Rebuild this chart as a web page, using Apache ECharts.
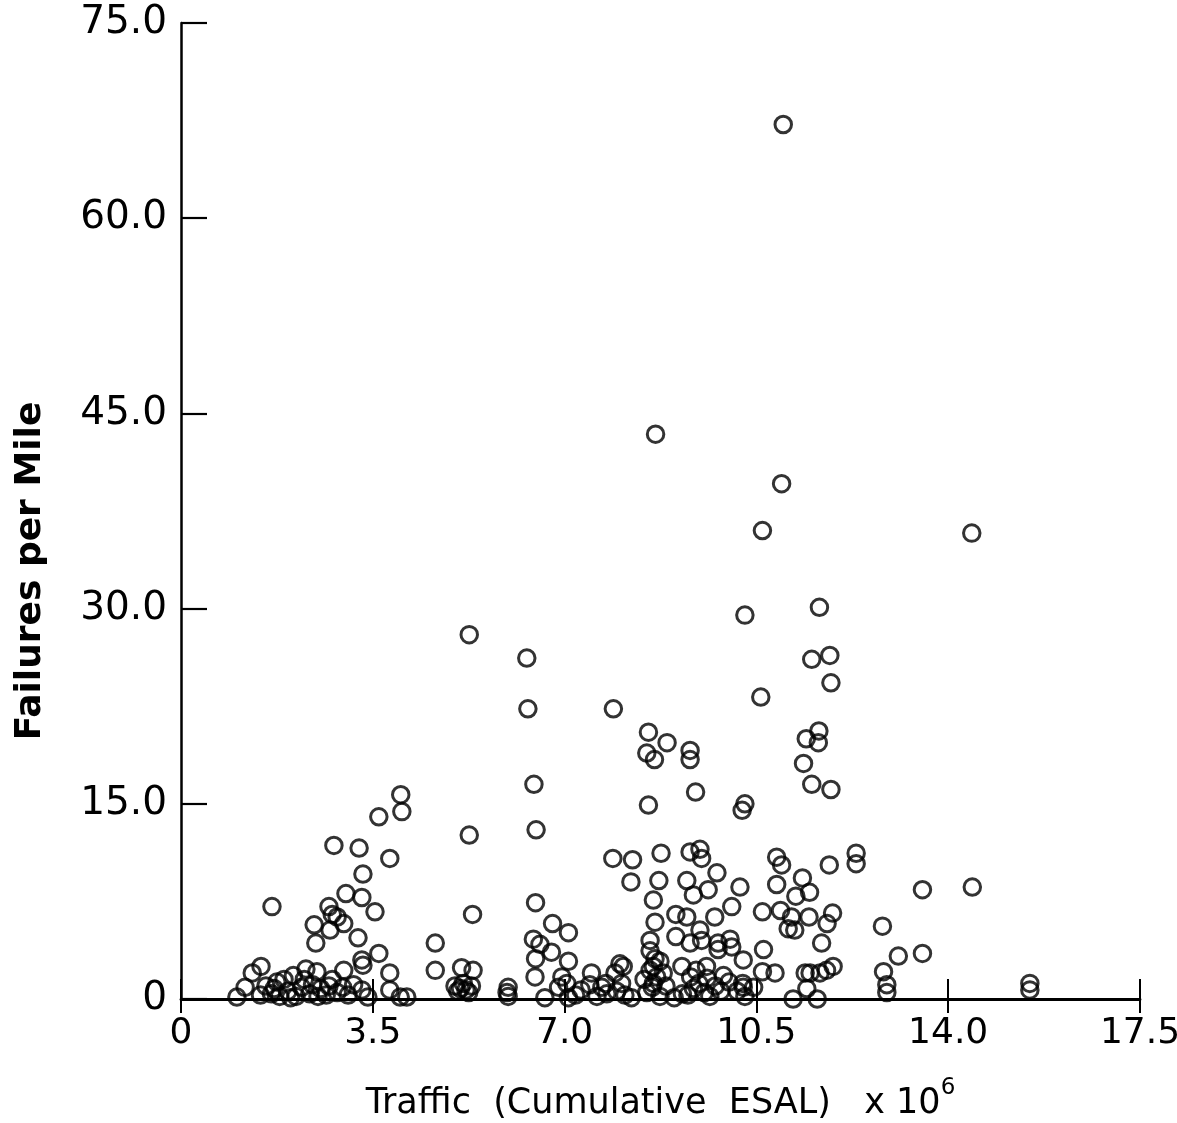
<!DOCTYPE html>
<html>
<head>
<meta charset="utf-8">
<script src="https://cdn.jsdelivr.net/npm/echarts@6/dist/echarts.min.js"></script>
<style>html,body{margin:0;padding:0;background:#fff;overflow:hidden}#c{width:1177px;height:1123px}</style>
</head>
<body>
<div id="c"></div>
<script>
// Traffic (cumulative ESAL, millions) and failures per mile
const traffic = [
  4.01,4.03,3.61,2.79,3.25,3.81,3.32,3.01,3.30,3.54,1.66,2.70,2.76,2.85,2.97,2.43,2.72,3.23,2.46,4.64,
  3.61,3.30,3.32,4.64,3.81,1.46,1.30,1.17,1.02,2.28,2.48,2.97,1.88,2.76,3.30,3.41,3.81,4.00,4.12,
  1.45,1.55,1.65,1.75,1.80,1.95,2.05,2.10,2.20,2.25,2.35,2.40,2.50,2.55,2.65,2.70,2.85,2.95,3.05,3.15,2.00,1.70,
  5.26,6.31,6.33,6.44,5.26,6.48,6.47,5.32,6.78,7.07,6.43,6.55,6.76,6.47,6.46,7.07,5.12,5.33,
  5.00,5.10,5.15,5.20,5.30,5.05,5.25,5.97,5.97,5.95,6.64,6.95,7.04,6.89,7.07,
  7.89,8.53,8.87,8.50,8.64,8.53,7.88,8.24,8.76,8.21,8.72,8.62,8.65,9.03,9.03,
  8.56,8.56,8.65,8.74,8.62,
  7.49,7.46,7.68,7.77,7.59,8.01,8.07,7.92,8.04,8.22,8.56,8.68,8.62,8.80,8.74,
  8.50,8.60,8.85,8.45,9.00,7.95,8.10,7.30,7.20,7.75,
  9.29,9.29,9.39,10.29,10.24,9.29,9.47,9.50,9.23,9.35,9.62,9.78,10.20,9.23,9.74,10.05,9.29,9.47,9.50,9.80,
  10.02,9.80,10.05,10.26,9.14,9.59,10.26,10.29,
  9.25,9.35,9.45,9.55,9.65,9.75,9.85,10.15,10.25,9.30,9.60,9.90,9.40,10.45,9.15,10.00,10.29,
  10.99,8.66,10.96,10.61,14.43,11.65,11.51,11.84,11.86,10.58,11.41,11.64,11.63,11.36,11.51,11.86,
  10.87,10.96,11.83,12.32,12.32,10.87,11.34,11.47,11.22,13.53,14.44,10.61,10.94,11.14,11.08,11.20,
  11.46,11.89,11.79,12.80,11.69,10.63,13.09,13.53,10.61,10.84,11.39,11.48,11.66,11.78,11.90,11.42,
  12.82,12.88,12.88,11.17,11.61,15.49,15.49
];
const failures = [
  15.7,14.4,14.0,11.8,11.6,10.8,9.6,8.1,7.8,6.7,7.1,7.1,6.5,6.3,5.8,5.7,5.3,4.7,4.3,4.3,
  3.5,3.0,2.6,2.2,2.0,2.5,2.0,0.9,0.15,2.3,2.1,2.2,1.5,1.5,0.7,0.15,0.7,0.15,0.15,
  0.3,1.0,0.4,1.3,0.2,0.6,1.8,0.2,0.9,1.5,0.4,1.1,0.2,0.8,0.3,1.0,0.5,0.9,0.3,1.1,0.1,0.8,
  28.0,26.2,22.3,16.5,12.6,13.0,7.4,6.5,5.8,5.1,4.6,4.2,3.6,3.1,1.7,2.9,2.4,2.2,
  1.0,0.8,1.2,0.7,1.0,0.6,0.5,0.9,0.2,0.5,0.1,1.7,1.2,0.9,0.1,
  22.3,20.5,19.7,18.9,18.4,14.9,10.8,10.7,11.2,9.0,9.1,7.6,5.9,6.5,4.8,
  4.5,3.7,3.1,2.9,2.5,
  2.0,1.1,0.9,0.4,0.2,2.7,2.5,2.0,1.2,0.1,2.2,1.7,1.2,2.0,0.2,
  0.5,0.9,1.0,1.5,0.1,0.6,0.3,0.7,0.3,1.2,
  19.1,18.4,15.9,15.0,14.5,11.3,11.5,10.8,9.1,8.0,8.4,9.7,8.6,6.3,6.3,7.1,4.3,5.3,4.5,4.3,
  4.6,3.8,4.0,3.0,2.5,2.5,0.9,0.2,
  0.3,0.8,1.2,0.5,0.2,1.0,0.6,0.6,1.2,1.7,1.6,1.8,2.2,0.9,0.4,1.3,29.5,
  67.2,43.4,39.6,36.0,35.8,30.1,26.1,26.4,24.3,23.2,20.0,20.6,19.7,18.1,16.5,16.1,
  10.9,10.3,10.3,11.2,10.4,8.8,9.3,8.2,7.9,8.4,8.6,6.7,6.8,6.3,5.4,5.3,
  6.3,6.6,5.8,5.6,4.3,3.8,3.3,3.5,2.1,2.0,2.0,2.0,2.0,2.2,2.5,0.8,
  2.1,1.1,0.5,0.0,0.0,1.2,0.7
];
const xTickLabels = ['0','3.5','7.0','10.5','14.0','17.5'];
const yTickLabels = ['0','15.0','30.0','45.0','60.0','75.0'];
const xName = 'Traffic  (Cumulative  ESAL)   x 10';
const xNameSup = '6';
const yName = 'Failures per Mile';

const points = traffic.map((t, i) => [t, failures[i]]);
const FONT = 'DejaVu Sans, Noto Sans, sans-serif';

const el = document.getElementById('c');
const chart = echarts.init(el, null, {renderer: 'canvas', width: 1177, height: 1123});
chart.setOption({
  animation: false,
  backgroundColor: '#fff',
  grid: {left: 181, top: 23, right: 37, bottom: 124, containLabel: false, outerBoundsMode: 'none'},
  xAxis: [{
    type: 'value', min: 0, max: 17.5, interval: 3.5, position: 'bottom',
    axisLine: {show: true, onZero: false, lineStyle: {color: '#000', width: 2.8}},
    axisTick: {show: true, inside: false, length: 14, lineStyle: {color: '#000', width: 2}},
    axisLabel: {show: true, margin: 17, color: '#000', fontFamily: FONT, fontSize: 36,
      formatter: (v) => xTickLabels[Math.round(v / 3.5)]},
    splitLine: {show: false},
    name: '{t|' + xName + '}{s|' + xNameSup + '}',
    nameLocation: 'middle', nameGap: 78,
    nameTextStyle: {
      rich: {
        t: {fontFamily: FONT, fontSize: 35, color: '#000', lineHeight: 44, verticalAlign: 'bottom'},
        s: {fontFamily: FONT, fontSize: 23, color: '#000', lineHeight: 44, verticalAlign: 'top'}
      }
    }
  }, {
    type: 'value', min: 0, max: 17.5, interval: 3.5, position: 'top', offset: -976,
    axisLine: {show: false, onZero: false},
    axisTick: {show: true, inside: false, length: 20, lineStyle: {color: '#000', width: 2}},
    axisLabel: {show: false},
    splitLine: {show: false}
  }],
  yAxis: {
    type: 'value', min: 0, max: 75, interval: 15,
    axisLine: {show: true, onZero: false, lineStyle: {color: '#000', width: 2.5}},
    axisTick: {show: true, inside: true, length: 26, lineStyle: {color: '#000', width: 2.2}},
    axisLabel: {show: true, margin: 14, color: '#000', fontFamily: FONT, fontSize: 39,
      formatter: (v) => yTickLabels[Math.round(v / 15)]},
    splitLine: {show: false},
    name: yName, nameLocation: 'middle', nameGap: 132,
    nameTextStyle: {fontFamily: FONT, fontSize: 36, fontWeight: 'bold', color: '#000',
      padding: [0, 120, 0, 0]}
  },
  series: [{
    type: 'scatter', xAxisIndex: 0, yAxisIndex: 0,
    data: points,
    symbol: 'circle', symbolSize: 16.5,
    itemStyle: {color: 'rgba(0,0,0,0)', borderColor: '#000', borderWidth: 3},
    emphasis: {disabled: true}
  }]
});
</script>
</body>
</html>
